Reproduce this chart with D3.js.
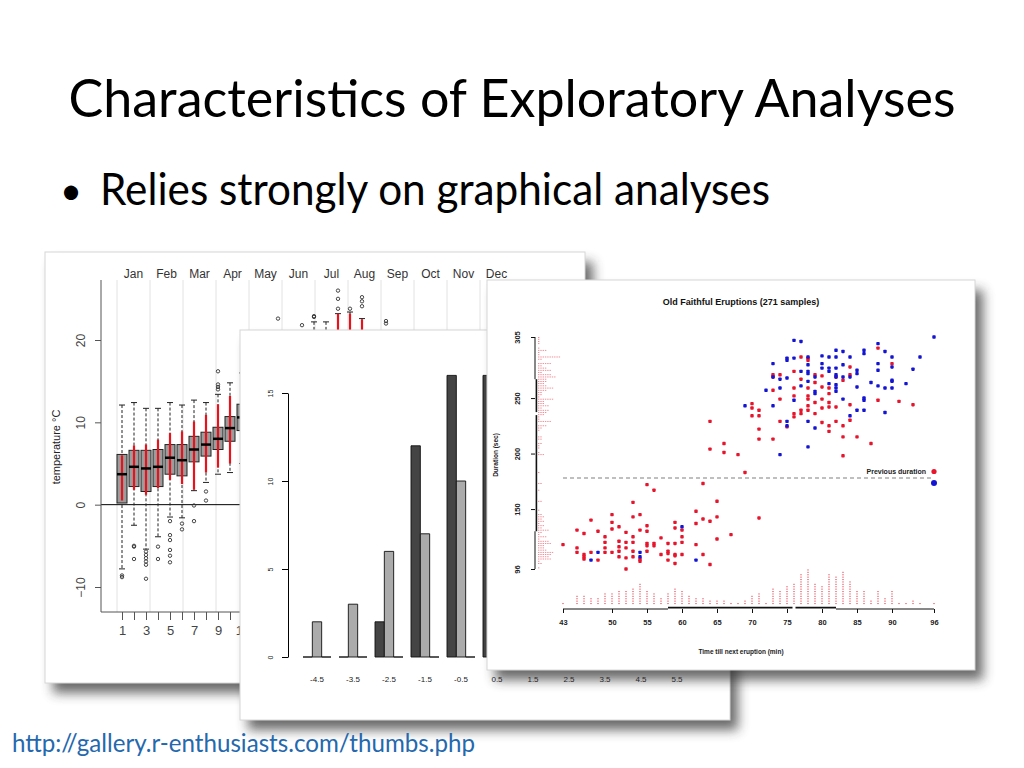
<!DOCTYPE html>
<html>
<head>
<meta charset="utf-8">
<script src="https://cdn.jsdelivr.net/npm/d3@7"></script>
<style>
  body { margin: 0; background: #fff; }
  svg { display: block; }
</style>
</head>
<body>
<svg id="slide" width="1024" height="768"></svg>
<script>
// ---------- slide text ----------
const slideTitle = "Characteristics of Exploratory Analyses";
const bulletText = "Relies strongly on graphical analyses";
const sourceUrl = "http://gallery.r-enthusiasts.com/thumbs.php";

// ---------- panel 1: temperature boxplots ----------
const months = ["Jan", "Feb", "Mar", "Apr", "May", "Jun", "Jul", "Aug", "Sep", "Oct", "Nov", "Dec"];
const tempTicks = [-10, 0, 10, 20];
const boxLow  = [-7.8, -2.5, -5.4, -3.9, -1.5, -1.6, 1.7, 2.7, 3.7, 3.9, 5, 6, 7, 8, 9, 9.5, 10, 10.5, 11, 11.5, 11, 10.5, 10, 9, 8, 7, 6, 4, 3, 1, 0, -1, -2];
const boxQ1   = [0.2, 2.2, 1.6, 2.2, 3.7, 3.5, 5.2, 5.9, 6.7, 7.7, 9.0, 10, 11, 12, 12.5, 13, 14, 14.5, 15, 15.5, 15, 14.5, 14, 13, 12, 11, 10, 8.5, 7, 5.5, 4.5, 3.5, 2.5];
const boxMed  = [3.7, 4.6, 4.4, 4.6, 5.7, 5.4, 6.7, 7.3, 8.0, 9.3, 10.6, 11.5, 12.5, 13.5, 14, 15, 15.5, 16, 17, 17, 16.5, 16, 15.5, 14.5, 13.5, 12.5, 11, 10, 8.5, 7, 6, 5, 4];
const boxQ3   = [6.1, 6.6, 6.6, 6.7, 7.3, 7.3, 8.3, 8.8, 9.4, 10.7, 12.2, 13, 14, 15, 16, 16.5, 17, 17.5, 18.5, 19, 18.5, 17.5, 17, 16, 15, 14, 12.5, 11.5, 10, 8.5, 7.5, 6.5, 6];
const boxHigh = [12.1, 12.4, 11.7, 11.7, 12.4, 12.1, 12.7, 12.4, 13.4, 14.8, 16, 18, 19, 20, 20.5, 21, 22.2, 22.2, 23.2, 23.4, 22.6, 21, 20.5, 20, 19, 18, 16.5, 15, 14, 13, 12.5, 12, 12];
const redLo   = [0.5, 1.8, 1.2, 2.0, 3.0, 2.5, 1.8, 3.9, 4.5, 5.0, 6.5, 8, 9, 10, 10.5, 11, 12, 12.5, 12.5, 13, 12.5, 12, 11.5, 10.5, 9.5, 8.5, 7, 6, 4.5, 3, 2, 1, 0];
const redHi   = [6.0, 7.2, 7.3, 7.9, 8.7, 8.9, 10.1, 10.9, 12.2, 13.2, 14.5, 16, 17, 18, 18.5, 19, 20, 20.5, 23.2, 23.2, 22.5, 20, 19.5, 18.5, 17, 16, 14.5, 13.5, 12, 11, 10, 9, 8.5];
const boxOut  = [[-8.6, -8.8], [-5.0, -5.1, -6.6], [-5.7, -6.1, -6.5, -6.9, -7.3, -9.0], [-5.1, -6.6],
  [-2.0, -3.7, -4.3, -5.5, -6.2, -7.0], [-2.3, -3.0], [-0.1, -2.0], [1.6, 0.5], [14.0, 14.3, 14.6, 16.2], [], [],
  [], [], [22.6], [], [21.8], [22.8, 22.9], [], [23.8, 25.0, 26.0], [23.8], [24.1, 24.7, 25.2], [], [22.0, 22.3],
  [], [], [], [], [], [], [], [], [], []];

// ---------- panel 2: grouped bars ----------
const barGroups = ["-4.5", "-3.5", "-2.5", "-1.5", "-0.5", "0.5", "1.5", "2.5", "3.5", "4.5", "5.5"];
const barDark  = [0, 0, 2, 12, 16, 16, 11, 5, 2, 1, 0];
const barLight = [2, 3, 6, 7, 10, 13, 9, 6, 3, 2, 1];
const barThird = [0, 0, 0, 0, 0, 0, 2, 4, 6, 8, 9];
const barTicks = [0, 5, 10, 15];

// ---------- panel 3: Old Faithful ----------
const waitTicks = [43, 50, 55, 60, 65, 70, 75, 80, 85, 90, 96];
const durTicks = [96, 150, 200, 250, 305];
const waitMinutes = d3.range(43, 97);
const waitCounts = [1, 0, 4, 4, 3, 3, 5, 5, 6, 6, 7, 9, 6, 5, 3, 5, 7, 6, 4, 3, 3, 2, 2, 2, 1, 1, 2, 4, 5, 1,
  7, 6, 8, 9, 13, 15, 9, 8, 13, 12, 14, 10, 6, 6, 2, 6, 3, 6, 1, 1, 2, 1, 0, 1];
const prevDurCut = 178;
const redPoints = [
  [43,118],[45,131],[45,115],[45,111],[46,128],[46,109],[46,107],[46,105],[47,140],[47,111],[48,130],[48,104],
  [49,125],[49,120],[49,115],[49,111],[50,145],[50,138],[50,132],[50,111],[51,134],[51,121],[51,116],[51,112],
  [51,107],[52,129],[52,120],[52,115],[52,106],[52,96],[53,156],[53,143],[53,125],[53,120],[53,112],[53,107],
  [54,145],[54,131],[54,105],[54,103],[55,172],[55,135],[55,130],[55,119],[55,117],[55,112],[56,167],[56,119],
  [56,117],[57,124],[57,109],[58,119],[58,112],[58,110],[58,104],[59,138],[59,133],[59,119],[59,109],[59,108],
  [59,101],[60,131],[60,125],[60,120],[60,109],[62,148],[62,137],[62,118],[63,173],[63,141],[63,109],[64,139],
  [64,100],[65,157],[65,143],[65,123],[67,127],[71,142],
  [64,229],[64,204],[66,209],[66,201],[68,199],[69,183],[70,245],[70,241],[70,234],[71,239],[71,234],[71,222],
  [71,213],[73,271],[73,269],[73,257],[73,213],[74,271],[74,249],[74,229],[75,224],[76,274],[76,259],[76,252],
  [76,236],[76,233],[77,287],[77,267],[77,239],[77,236],[78,286],[78,284],[78,259],[78,252],[78,249],[78,243],
  [78,239],[79,271],[79,264],[79,246],[79,236],[80,270],[80,260],[80,249],[80,241],[80,228],[81,259],[81,254],
  [81,246],[81,242],[81,225],[81,220],[82,269],[82,242],[82,229],[83,266],[83,225],[83,215],[83,198],[84,278],
  [84,271],[84,244],[84,230],[85,215],[87,209],[88,295],[88,248],[90,281],[91,247],[93,244]
];
const bluePoints = [
  [47,104],[48,111],[54,111],[54,107],[60,134],[62,104],
  [69,243],[72,257],[73,281],[73,269],[73,243],[74,267],[74,259],[74,199],[75,286],[75,284],[75,268],[75,229],
  [75,225],[76,302],[76,286],[76,248],[77,301],[77,274],[77,261],[78,287],[78,280],[78,274],[78,272],[78,265],
  [78,229],[78,206],[79,223],[79,269],[79,256],[79,254],[80,288],[80,281],[80,277],[81,287],[81,277],[81,274],
  [81,263],[82,293],[82,287],[82,277],[82,271],[82,269],[82,262],[82,259],[82,256],[83,292],[83,280],[83,269],
  [83,249],[84,287],[84,269],[84,234],[85,275],[85,272],[85,260],[85,239],[86,293],[86,290],[86,250],[86,248],
  [86,239],[87,264],[88,299],[88,281],[88,275],[88,261],[89,292],[89,259],[89,237],[90,287],[90,278],[90,266],
  [90,265],[90,259],[92,263],[93,276],[94,287],[96,305]
];

const svg = d3.select("#slide");
const rFont = "'Liberation Sans', Arial, sans-serif";
const slideFont = "Lato, 'Open Sans', sans-serif";

svg.append("defs").append("filter")
  .attr("id", "soft").attr("x", "-10%").attr("y", "-10%").attr("width", "130%").attr("height", "130%")
  .append("feGaussianBlur").attr("stdDeviation", 6);

function panel(x, y, w, h) {
  svg.append("rect").attr("x", x + 8).attr("y", y + 10).attr("width", w).attr("height", h)
    .attr("fill", "#333").attr("opacity", 0.72).attr("filter", "url(#soft)");
  svg.append("rect").attr("x", x).attr("y", y).attr("width", w).attr("height", h)
    .attr("fill", "#fff").attr("stroke", "#d6d6d6");
  return svg.append("g").style("font-family", rFont);
}

// rotated tick labels like R's las=0 on the y axis
function rotateLabels(sel, off) {
  sel.selectAll("text")
    .attr("transform", "rotate(-90)")
    .attr("x", 0).attr("y", -off).attr("dy", 0)
    .style("text-anchor", "middle");
}

// ---------- slide text ----------
svg.append("text").attr("x", 512).attr("y", 117).attr("text-anchor", "middle")
  .attr("textLength", 887).attr("lengthAdjust", "spacingAndGlyphs")
  .style("font-family", slideFont).style("font-size", "53px").attr("fill", "#000")
  .text(slideTitle);
svg.append("text").attr("x", 60).attr("y", 204)
  .style("font-family", slideFont).style("font-size", "38px").text("•");
svg.append("text").attr("x", 100).attr("y", 205)
  .attr("textLength", 670).attr("lengthAdjust", "spacingAndGlyphs")
  .style("font-family", slideFont).style("font-size", "44px").attr("fill", "#000")
  .text(bulletText);

// ---------- panel 1 ----------
const g1 = panel(45, 252, 540, 431);
const yT = d3.scaleLinear().domain([-10, 20]).range([587, 340]);
const xB = d3.scaleLinear().domain([1, boxMed.length]).range([122, 122 + 12 * (boxMed.length - 1)]);
const xM = d3.scaleLinear().domain([0, 12]).range([117, 513]);

g1.selectAll(".mline").data(d3.range(13)).enter().append("line")
  .attr("x1", d => xM(d)).attr("x2", d => xM(d)).attr("y1", 280).attr("y2", 612)
  .attr("stroke", "#e2e2e2");
g1.selectAll(".mlab").data(months).enter().append("text")
  .attr("x", (d, i) => xM(i + 0.5)).attr("y", 278).attr("text-anchor", "middle")
  .style("font-size", "12px").attr("fill", "#333").text(d => d);

g1.append("line").attr("x1", 101).attr("x2", 600).attr("y1", yT(0)).attr("y2", yT(0)).attr("stroke", "#000");

const yAx1 = g1.append("g").attr("transform", "translate(101,0)")
  .call(d3.axisLeft(yT).tickValues(tempTicks).tickSize(6).tickSizeOuter(0));
yAx1.select(".domain").remove();
yAx1.selectAll("line").attr("stroke", "#555");
yAx1.selectAll("text").style("font-size", "12px").attr("fill", "#444").style("font-family", rFont);
rotateLabels(yAx1, 16);

const xAx1 = g1.append("g").attr("transform", "translate(0,612)")
  .call(d3.axisBottom(xB).tickValues(d3.range(1, boxMed.length + 1))
    .tickFormat(d => d % 2 ? d : "").tickSize(8).tickSizeOuter(0));
xAx1.select(".domain").remove();
xAx1.selectAll("line").attr("stroke", "#555");
xAx1.selectAll("text").style("font-size", "13px").attr("fill", "#444").style("font-family", rFont).attr("dy", "0.95em");

g1.append("path").attr("d", "M101,280V612H600").attr("fill", "none").attr("stroke", "#555");
g1.append("text").attr("transform", `translate(60,447) rotate(-90)`).attr("text-anchor", "middle")
  .style("font-size", "11px").attr("fill", "#222").text("temperature °C");

boxMed.forEach((m, i) => {
  const cx = xB(i + 1);
  const bx = g1.append("g");
  bx.append("line").attr("x1", cx).attr("x2", cx).attr("y1", yT(boxHigh[i])).attr("y2", yT(boxLow[i]))
    .attr("stroke", "#222").attr("stroke-dasharray", "3,2");
  [boxHigh[i], boxLow[i]].forEach(v => {
    bx.append("line").attr("x1", cx - 3).attr("x2", cx + 3).attr("y1", yT(v)).attr("y2", yT(v)).attr("stroke", "#222");
  });
  bx.append("rect").attr("x", cx - 5).attr("width", 10)
    .attr("y", yT(boxQ3[i])).attr("height", yT(boxQ1[i]) - yT(boxQ3[i]))
    .attr("fill", "#9c9c9c").attr("stroke", "#222");
  bx.append("line").attr("x1", cx).attr("x2", cx).attr("y1", yT(redHi[i])).attr("y2", yT(redLo[i]))
    .attr("stroke", "#e8121c").attr("stroke-width", 2.2);
  bx.append("line").attr("x1", cx - 5).attr("x2", cx + 5).attr("y1", yT(m)).attr("y2", yT(m))
    .attr("stroke", "#000").attr("stroke-width", 2.5);
  bx.selectAll("circle").data(boxOut[i]).enter().append("circle")
    .attr("cx", cx).attr("cy", d => yT(d)).attr("r", 1.7)
    .attr("fill", "none").attr("stroke", "#333").attr("stroke-width", 0.9);
});

// ---------- panel 2 ----------
const g2 = panel(240, 330, 490, 390);
const yBar = d3.scaleLinear().domain([0, 15]).range([657, 393]);
const xG = d3.scaleBand().domain(barGroups).range([299, 299 + 36 * barGroups.length])
  .paddingInner(8 / 36).paddingOuter(4 / 36);
const xS = d3.scaleBand().domain([0, 1, 2]).range([0, xG.bandwidth()]);
const barSeries = [barDark, barLight, barThird];
const barFill = ["#444", "#ababab", "#fff"];

barGroups.forEach((grp, gi) => {
  barSeries.forEach((ser, si) => {
    const x0 = xG(grp) + xS(si), w = xS.bandwidth();
    g2.append("path")
      .attr("d", `M${x0},${yBar(0)}V${yBar(ser[gi])}H${x0 + w}V${yBar(0)}Z`)
      .attr("fill", barFill[si]).attr("stroke", "#111").attr("stroke-width", 0.9);
  });
});

const yAx2 = g2.append("g").attr("transform", "translate(288,0)")
  .call(d3.axisLeft(yBar).tickValues(barTicks).tickSize(6).tickSizeOuter(0));
yAx2.select(".domain").attr("stroke", "#000");
yAx2.selectAll("text").style("font-size", "7px").attr("fill", "#222").style("font-family", rFont);
rotateLabels(yAx2, 15);

g2.selectAll(".glab").data(barGroups).enter().append("text")
  .attr("x", d => xG(d) + xG.bandwidth() / 2).attr("y", 682).attr("text-anchor", "middle")
  .style("font-size", "8px").attr("fill", "#222").text(d => d);

// ---------- panel 3 ----------
const g3 = panel(487, 280, 488, 390);
const xW = d3.scaleLinear().domain([43, 96]).range([563, 934]);
const yD = d3.scaleLinear().domain([96, 305]).range([569, 337]);

g3.append("text").attr("x", 741).attr("y", 305).attr("text-anchor", "middle")
  .style("font-size", "9px").style("font-weight", "bold").attr("fill", "#111")
  .text("Old Faithful Eruptions (271 samples)");

// dot histogram of waiting times above the x axis
waitMinutes.forEach((m, i) => {
  g3.selectAll(null).data(d3.range(waitCounts[i])).enter().append("rect")
    .attr("x", xW(m) - 0.7).attr("y", k => 603 - k * 2.4).attr("width", 1.4).attr("height", 1.1)
    .attr("fill", "#ea6470");
});

// rug of durations stacked beside the y axis
const allDur = redPoints.concat(bluePoints).map(d => d[1]);
const durBins = d3.bin().domain(yD.domain()).thresholds(d3.range(96, 306, 2))(allDur);
durBins.forEach(b => {
  g3.selectAll(null).data(d3.range(b.length)).enter().append("rect")
    .attr("x", k => 538 + k * 2.3).attr("y", yD((b.x0 + b.x1) / 2) - 0.4)
    .attr("width", 1.4).attr("height", 0.8).attr("fill", "#ee7480");
});

// quartile axis lines (middle half offset, gap at median)
function quartileLine(vals, scale, fixed, dir, vertical) {
  const s = vals.slice().sort(d3.ascending);
  const q1 = d3.quantile(s, 0.25), md = d3.quantile(s, 0.5), q3 = d3.quantile(s, 0.75);
  const [lo, hi] = scale.domain();
  const segs = [[lo, q1, 0, 1], [q1, md, 1.4, 1.6], [md, q3, 1.4, 1.6], [q3, hi, 0, 1]];
  segs.forEach(([a, b, off, sw], k) => {
    let pa = scale(a), pb = scale(b);
    if (k === 1) pb += (pb > pa ? -1.5 : 1.5);
    if (k === 2) pa += (pb > pa ? 1.5 : -1.5);
    const f = fixed + dir * off;
    g3.append("line")
      .attr("x1", vertical ? f : pa).attr("x2", vertical ? f : pb)
      .attr("y1", vertical ? pa : f).attr("y2", vertical ? pb : f)
      .attr("stroke", "#111").attr("stroke-width", sw);
  });
}
const allWait = waitMinutes.flatMap((m, i) => d3.range(waitCounts[i]).map(() => m));
quartileLine(allWait, xW, 609, -1, false);
quartileLine(allDur, yD, 535, 1, true);

const xAx3 = g3.append("g").attr("transform", "translate(0,609)")
  .call(d3.axisBottom(xW).tickValues(waitTicks).tickSize(4).tickSizeOuter(0));
xAx3.select(".domain").remove();
xAx3.selectAll("line").attr("stroke", "#111");
xAx3.selectAll("text").style("font-size", "7.5px").style("font-weight", "bold")
  .attr("fill", "#222").style("font-family", rFont).attr("dy", "1.2em");

const yAx3 = g3.append("g").attr("transform", "translate(535,0)")
  .call(d3.axisLeft(yD).tickValues(durTicks).tickSize(4).tickSizeOuter(0));
yAx3.select(".domain").remove();
yAx3.selectAll("line").attr("stroke", "#111");
yAx3.selectAll("text").style("font-size", "7.5px").style("font-weight", "bold")
  .attr("fill", "#222").style("font-family", rFont);
rotateLabels(yAx3, 15);

g3.append("text").attr("x", 741).attr("y", 654).attr("text-anchor", "middle")
  .style("font-size", "6.5px").style("font-weight", "bold").attr("fill", "#222")
  .text("Time till next eruption (min)");
g3.append("text").attr("transform", "translate(498,455) rotate(-90)").attr("text-anchor", "middle")
  .style("font-size", "6.5px").style("font-weight", "bold").attr("fill", "#222")
  .text("Duration (sec)");

g3.append("line").attr("x1", xW(43)).attr("x2", xW(96)).attr("y1", yD(prevDurCut)).attr("y2", yD(prevDurCut))
  .attr("stroke", "#aaa").attr("stroke-width", 1.3).attr("stroke-dasharray", "4,3");

[[redPoints, "#e8142c"], [bluePoints, "#1414d4"]].forEach(([pts, col]) => {
  g3.selectAll(null).data(pts).enter().append("rect")
    .attr("x", d => xW(d[0]) - 1.7).attr("y", d => yD(d[1]) - 1.7)
    .attr("width", 3.4).attr("height", 3.4).attr("rx", 0.8).attr("fill", col);
});

g3.append("text").attr("x", 926).attr("y", 474).attr("text-anchor", "end")
  .style("font-size", "7px").style("font-weight", "bold").attr("fill", "#222").text("Previous duration");
g3.append("circle").attr("cx", 934).attr("cy", 471.5).attr("r", 2.6).attr("fill", "#e8142c");
g3.append("circle").attr("cx", 934).attr("cy", 483).attr("r", 3).attr("fill", "#1414d4");

// ---------- source link ----------
svg.append("text").attr("x", 12).attr("y", 752)
  .attr("textLength", 463).attr("lengthAdjust", "spacingAndGlyphs")
  .style("font-family", slideFont).style("font-size", "25px").attr("fill", "#2468ae")
  .text(sourceUrl);
</script>
</body>
</html>
